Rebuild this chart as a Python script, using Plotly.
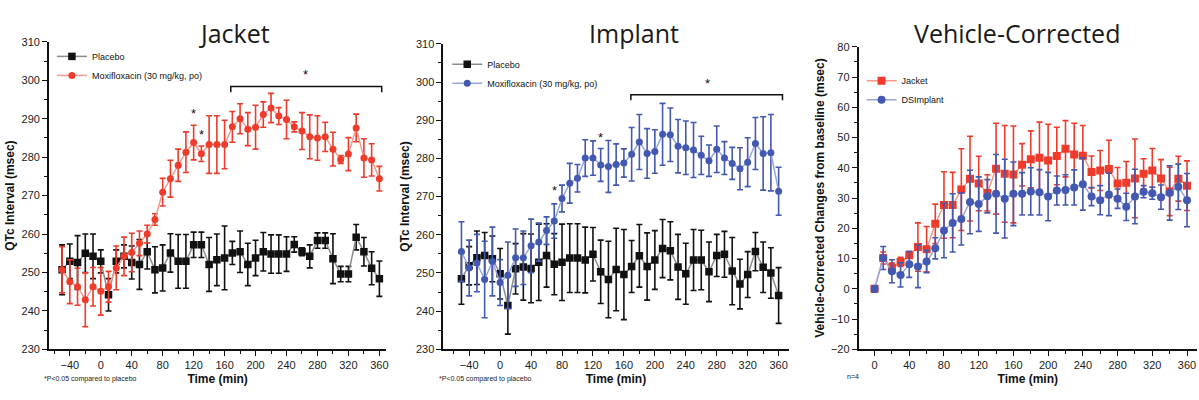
import plotly.graph_objects as go

# ---------------- data ----------------
time_a = [-50, -40, -30, -20, -10, 0, 10, 20, 30, 40, 50, 60, 70, 80, 90, 100, 110, 120, 130, 140,
          150, 160, 170, 180, 190, 200, 210, 220, 230, 240, 250, 260, 270, 280, 290, 300, 310, 320,
          330, 340, 350, 360]

jacket_placebo = [250.7, 252.9, 252.6, 255.0, 254.2, 252.9, 244.2, 252.9, 254.2, 252.6, 252.1, 255.4,
                  250.7, 251.2, 255.1, 252.9, 252.9, 257.2, 257.2, 252.1, 253.3, 253.8, 255.1, 255.4,
                  252.1, 253.8, 255.4, 254.8, 254.8, 254.8, 257.3, 255.4, 254.2, 258.3, 258.3, 253.6,
                  249.6, 249.6, 259.2, 255.4, 251.1, 248.4]
jacket_placebo_err = [6.5, 4.5, 7, 5, 5.8, 3, 4.2, 3, 3, 4.3, 6.5, 4.5, 6, 6, 5, 7, 7, 3.3, 3.3, 7,
                      6.7, 8.3, 3, 5.4, 5.5, 4.6, 5, 5, 5, 4.5, 2, 1, 3, 2, 2, 6.5, 2, 2, 3.3, 3.7,
                      4.3, 4.6]
jacket_moxi = [250.7, 247.6, 246.3, 242.9, 246.3, 245.1, 246.3, 251.2, 254.2, 255.2, 257.6, 260.0,
               263.8, 270.9, 274.4, 277.9, 281.3, 283.8, 280.9, 283.3, 283.3, 283.3, 287.9, 290.0,
               287.3, 287.8, 291.1, 292.8, 290.7, 289.8, 287.9, 286.8, 285.3, 285.0, 285.3, 282.1,
               279.4, 280.8, 287.6, 279.8, 279.3, 274.4]
jacket_moxi_err = [6, 5.7, 4.8, 7, 5, 6.2, 4, 5.7, 5, 5, 3.2, 2.3, 1.5, 3.6, 4.8, 4.2, 5.3, 4.5, 2,
                   7.5, 7.5, 6.3, 4, 3.9, 4.3, 5.7, 3.3, 3.8, 2.2, 5, 1.3, 4.8, 5.7, 5.8, 3.8, 4.4,
                   1, 4.3, 3.6, 5, 4.2, 3.2]

implant_placebo = [248.5, 251.9, 254.0, 254.6, 253.7, 249.8, 241.5, 251.1, 251.6, 251.2, 252.8, 254.6,
                   252.3, 252.8, 253.9, 253.9, 253.4, 254.9, 250.3, 248.3, 250.9, 249.6, 251.7, 254.5,
                   251.7, 253.4, 256.4, 255.8, 251.6, 249.8, 253.4, 253.4, 250.3, 254.6, 254.9, 250.5,
                   247.1, 249.6, 255.6, 251.5, 250.0, 244.1]
implant_placebo_err = [6.7, 5, 7, 6, 6, 6.6, 7.5, 6.6, 8.7, 9, 10, 8.3, 8, 10, 9, 9, 8.6, 7, 8.3, 10,
                       10.8, 11.8, 6.8, 8.2, 8.8, 7.7, 7.6, 7.6, 8.5, 8, 8, 7.8, 7.8, 5.5, 6, 8.8,
                       6.5, 6, 5, 6.6, 6.6, 7.3]
implant_moxi = [255.6, 251.3, 252.6, 248.3, 253.0, 247.5, 249.4, 254.0, 254.0, 257.1, 258.1, 261.1,
                263.6, 269.5, 273.5, 274.8, 280.1, 280.1, 278.3, 277.9, 278.4, 278.8, 281.1, 284.3,
                281.3, 281.8, 286.3, 286.2, 283.2, 282.8, 282.2, 280.8, 279.4, 282.4, 280.1, 278.7,
                277.3, 279.0, 283.9, 281.3, 281.5, 271.4]
implant_moxi_err = [7.8, 7.3, 7.5, 10, 9, 6, 8.7, 7.5, 7, 7, 5, 3.6, 4.5, 3.5, 5.2, 3.6, 4.8, 4.5,
                    4.3, 6.8, 5.4, 3.7, 7, 7.2, 6.5, 5.7, 8.1, 7, 7, 7, 7.2, 5, 4.1, 6.1, 4.3, 4.2,
                    5.5, 6.4, 6.8, 9.6, 10, 6.3]

time_b = [0, 10, 20, 30, 40, 50, 60, 70, 80, 90, 100, 110, 120, 130, 140, 150, 160, 170, 180, 190,
          200, 210, 220, 230, 240, 250, 260, 270, 280, 290, 300, 310, 320, 330, 340, 350, 360]
vc_jacket = [0, 10.2, 7.0, 8.9, 11.1, 13.8, 13.1, 21.5, 27.7, 27.7, 32.8, 36.4, 34.8, 31.7, 39.7,
             38.0, 37.8, 41.0, 42.8, 43.3, 42.4, 43.9, 46.3, 44.4, 44.0, 38.6, 39.1, 39.6, 34.8,
             35.1, 36.5, 38.0, 39.1, 36.5, 32.2, 36.4, 34.1]
vc_jacket_err = [1, 2, 1.5, 1.5, 1, 8, 7.5, 6.5, 11, 10.8, 13.5, 14, 9, 6, 15, 16, 16, 7, 9.4, 11.8,
                 12, 9.5, 9.3, 10.3, 10, 5.3, 6.6, 9.5, 5.3, 7, 13, 5, 7.3, 6.2, 8, 7.4, 8.2]
vc_implant = [0, 10.2, 5.8, 4.6, 8.1, 7.4, 9.0, 13.4, 19.3, 21.8, 23.1, 28.7, 28.0, 30.6, 31.4,
              29.8, 31.4, 31.4, 32.2, 31.9, 30.5, 32.5, 32.7, 33.5, 34.6, 30.5, 29.3, 31.2, 29.8,
              27.1, 30.5, 32.1, 31.6, 30.3, 31.7, 33.7, 29.3]
vc_implant_err = [1, 3.8, 3.8, 4, 4.3, 7, 3.7, 3.5, 9, 9.6, 8.6, 10.5, 9, 5.5, 13, 13, 10.5, 7, 7.8,
                  7.5, 8, 4.8, 5, 5.8, 8.6, 3, 4.8, 7, 3.2, 4.5, 9, 2, 2, 4, 9, 7.5, 8.8]

panel_titles = ["Jacket", "Implant", "Vehicle-Corrected"]
x_ticks = [-40, 0, 40, 80, 120, 160, 200, 240, 280, 320, 360]
x_ticks_b = [0, 40, 80, 120, 160, 200, 240, 280, 320, 360]

# significance markers: (time, value) per panel, brackets: (start, end, level)
sig_jacket = [(120, 291.5), (130, 286.0), (265, 301.5)]
sig_implant = [(70, 271.5), (130, 285.5), (268, 299.7)]
bracket_jacket = (168, 363, 298.4)
bracket_implant = (169, 365, 296.7)

# ---------------- styling ----------------
W, H = 1199, 400
BLACK = "#111111"
RED = "#ee3b2b"
RED_LINE = "#f59a8c"
BLUE = "#4358b0"
BLUE_LINE = "#98a6dc"
GRAY_LINE = "#8c8c8c"
TICK_FONT = dict(family="Liberation Sans, Arial, sans-serif", size=11, color="#222222")


def px(v, axis):
    return v / (W if axis == "x" else H)


fig = go.Figure()


def add_series(x, y, err, name, mcolor, lcolor, symbol, size, xa, ya, legend):
    fig.add_trace(go.Scatter(
        x=x, y=y, name=name, mode="lines+markers",
        line=dict(color=lcolor, width=1.5),
        marker=dict(color=mcolor, symbol=symbol, size=size),
        error_y=dict(type="data", array=err, visible=True, color=mcolor, thickness=1.6, width=3),
        xaxis=xa, yaxis=ya, legend=legend,
    ))


add_series(time_a, jacket_placebo, jacket_placebo_err, "Placebo", BLACK, GRAY_LINE, "square", 7.5, "x", "y", "legend")
add_series(time_a, jacket_moxi, jacket_moxi_err, "Moxifloxacin (30 mg/kg, po)", RED, RED_LINE, "circle", 7, "x", "y", "legend")
add_series(time_a, implant_placebo, implant_placebo_err, "Placebo", BLACK, GRAY_LINE, "square", 7.5, "x2", "y2", "legend2")
add_series(time_a, implant_moxi, implant_moxi_err, "Moxifloxacin (30 mg/kg, po)", BLUE, BLUE_LINE, "circle", 7, "x2", "y2", "legend2")
add_series(time_b, vc_jacket, vc_jacket_err, "Jacket", RED, RED_LINE, "square", 8, "x3", "y3", "legend3")
add_series(time_b, vc_implant, vc_implant_err, "DSImplant", BLUE, BLUE_LINE, "circle", 8, "x3", "y3", "legend3")

axis_common = dict(
    showline=True, linecolor="#111111", linewidth=1.6, showgrid=False, zeroline=False,
    ticks="outside", ticklen=5, tickwidth=1.4, tickcolor="#111111", tickfont=TICK_FONT,
)
title_font = dict(family="Liberation Sans, Arial, sans-serif", size=12, color="#111111")

# panel pixel geometry
panels = [
    dict(x0=49, x1=387, ytop=37, ybot=354, xr=[-67, 369], yr=[230, 310], xt=x_ticks, ydt=10, yminor=5),
    dict(x0=444, x1=790, ytop=39, ybot=354, xr=[-73.5, 373], yr=[230, 310], xt=x_ticks, ydt=10, yminor=5),
    dict(x0=860, x1=1199, ytop=42, ybot=354, xr=[-18.4, 371.5], yr=[-20, 80], xt=x_ticks_b, ydt=10, yminor=5),
]
ytitles = ["QTc Interval (msec)", "QTc Interval (msec)", "Vehicle-Corrected Changes from baseline (msec)"]

layout = dict(width=W, height=H, margin=dict(l=0, r=0, t=0, b=0),
              paper_bgcolor="white", plot_bgcolor="white", showlegend=True)
for i, p in enumerate(panels):
    sfx = "" if i == 0 else str(i + 1)
    layout["xaxis" + sfx] = dict(
        axis_common, domain=[px(p["x0"], "x"), px(p["x1"], "x")], range=p["xr"],
        tickvals=p["xt"], anchor="y" + sfx,
        minor=dict(ticks="outside", ticklen=3, tickwidth=1.2, tickcolor="#111111", dtick=20, tick0=0),
        title=dict(text="<b>Time (min)</b>", font=title_font, standoff=4),
    )
    layout["yaxis" + sfx] = dict(
        axis_common, domain=[1 - px(p["ybot"], "y"), 1 - px(p["ytop"], "y")], range=p["yr"],
        dtick=p["ydt"], tick0=0, anchor="x" + sfx,
        minor=dict(ticks="outside", ticklen=3, tickwidth=1.2, tickcolor="#111111", dtick=p["yminor"], tick0=0),
        title=dict(text="<b>" + ytitles[i] + "</b>", font=title_font, standoff=4),
    )

legend_style = dict(bgcolor="rgba(0,0,0,0)", font=dict(family="Liberation Sans, Arial, sans-serif", size=9, color="#111111"),
                    xanchor="left", yanchor="top", itemwidth=30, tracegroupgap=0)
layout["legend"] = dict(legend_style, x=px(52, "x"), y=1 - px(37, "y"))
layout["legend2"] = dict(legend_style, x=px(448, "x"), y=1 - px(45, "y"))
layout["legend3"] = dict(legend_style, x=px(863, "x"), y=1 - px(62, "y"))
fig.update_layout(**layout)

# titles
title_centers = [235, 635, 1019]
for txt, cx in zip(panel_titles, title_centers):
    fig.add_annotation(text=txt, xref="paper", yref="paper", x=px(cx, "x"), y=1 - px(28, "y"),
                       showarrow=False, xanchor="center", yanchor="middle",
                       font=dict(family="Open Sans, sans-serif", size=25, color="#1a1a1a"))

# significance stars and brackets
for (xa, ya, stars, br) in [("x", "y", sig_jacket, bracket_jacket), ("x2", "y2", sig_implant, bracket_implant)]:
    for (t, v) in stars:
        fig.add_annotation(text="*", x=t, y=v, xref=xa, yref=ya, showarrow=False,
                           font=dict(family="Liberation Sans, Arial", size=13, color="#111111"))
    s, e, lvl = br
    fig.add_shape(type="path", xref=xa, yref=ya,
                  path=f"M {s},{lvl-1.5} L {s},{lvl} L {e},{lvl} L {e},{lvl-1.5}",
                  line=dict(color="#111111", width=1.5))

# footnotes
foot_font = dict(family="Liberation Sans, Arial", size=7, color="#222222")
fig.add_annotation(text="*P<0.05 compared to placebo", xref="paper", yref="paper", x=px(42, "x"), y=1 - px(385, "y"),
                   showarrow=False, xanchor="left", yanchor="middle", font=foot_font)
fig.add_annotation(text="*P<0.05 compared to placebo", xref="paper", yref="paper", x=px(438, "x"), y=1 - px(385, "y"),
                   showarrow=False, xanchor="left", yanchor="middle", font=foot_font)
fig.add_annotation(text="n=4", xref="paper", yref="paper", x=px(846, "x"), y=1 - px(382, "y"),
                   showarrow=False, xanchor="left", yanchor="middle", font=foot_font)

fig.write_html("out.html")
